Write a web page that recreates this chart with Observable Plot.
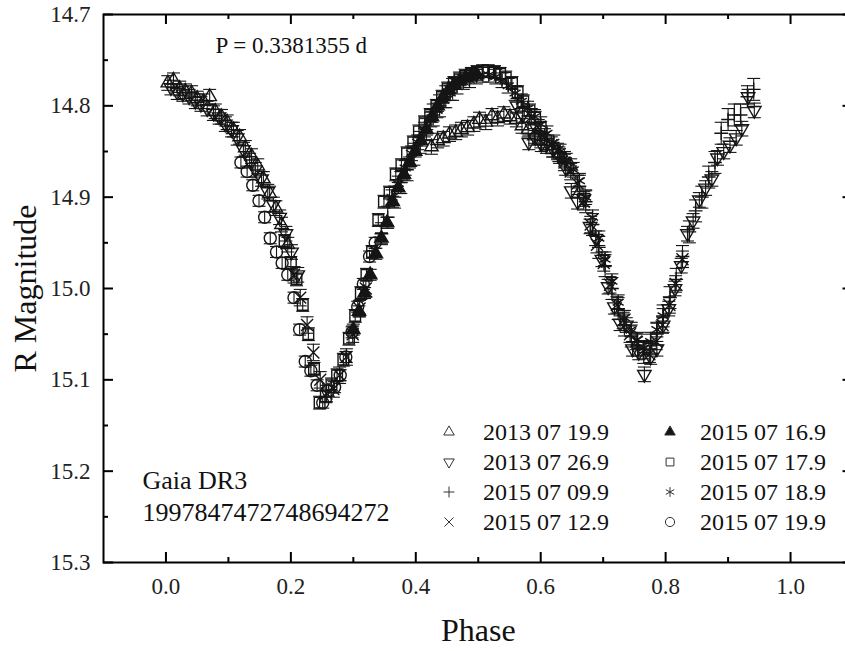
<!DOCTYPE html>
<html><head><meta charset="utf-8">
<script src="https://cdn.jsdelivr.net/npm/d3@7"></script>
<script src="https://cdn.jsdelivr.net/npm/@observablehq/plot@0.6"></script>
<style>
html,body{margin:0;padding:0;background:#fff;overflow:hidden;}
#wrap{position:relative;width:845px;height:651px;overflow:hidden;font-family:"Liberation Serif","Times New Roman",serif;}
.li{position:absolute;font-size:24px;line-height:24px;white-space:nowrap;color:#111;}
.ls{position:absolute;}
</style></head><body><div id="wrap"></div>
<script>
// ---------- data ----------
const seriesLabels = ["2013 07 19.9","2013 07 26.9","2015 07 09.9","2015 07 12.9","2015 07 16.9","2015 07 17.9","2015 07 18.9","2015 07 19.9"];
const seriesErr = [0.008, 0.008, 0.012, 0.009, 0.006, 0.007, 0.008, 0.006];

const phase1 = [0.003,0.012,0.022,0.031,0.041,0.05,0.06,0.07,0.079,0.089,0.098,0.108,0.118,0.127,0.137,0.147,0.156,0.166,0.176,0.185,0.195,
  0.425,0.435,0.444,0.454,0.464,0.473,0.483,0.493,0.502,0.512,0.522,0.531,0.541,0.551,0.561,0.57,0.58,0.59,0.6,0.609,0.619,0.629,0.638,0.648];
const mag1 = [14.775,14.772,14.781,14.784,14.786,14.792,14.795,14.790,14.806,14.812,14.818,14.826,14.834,14.846,14.855,14.866,14.880,14.896,14.912,14.930,14.952,
  14.845,14.838,14.836,14.831,14.829,14.826,14.824,14.820,14.815,14.818,14.811,14.814,14.809,14.812,14.815,14.822,14.826,14.833,14.838,14.844,14.848,14.853,14.858,14.866];

const phase2 = [0.008,0.018,0.027,0.037,0.047,0.056,0.066,0.076,0.085,0.095,0.105,0.114,0.124,0.134,0.143,0.153,0.163,0.172,0.182,0.192,0.201,0.211,
  0.562,0.571,0.581,0.591,0.601,0.61,0.62,0.63,0.64,0.649,0.659,0.669,0.679,0.688,0.698,0.708,0.718,0.727,0.737,0.747,0.757,0.766,0.776,0.786,0.796,0.805,0.815,0.825,0.835,0.844,0.854,0.864,0.874,0.883,0.893,0.903,0.913,0.922,0.932,0.942];
const mag2 = [14.780,14.785,14.787,14.790,14.795,14.798,14.803,14.808,14.812,14.820,14.826,14.835,14.848,14.860,14.870,14.880,14.894,14.908,14.922,14.940,14.960,14.985,
  14.800,14.810,14.840,14.835,14.842,14.840,14.848,14.855,14.868,14.893,14.905,14.902,14.932,14.945,14.968,14.998,15.020,15.038,15.040,15.066,15.070,15.094,15.075,15.066,15.040,15.022,15.000,14.975,14.940,14.926,14.903,14.890,14.880,14.857,14.850,14.843,14.835,14.825,14.790,14.805];

const phase3 = [0.345,0.355,0.366,0.376,0.386,0.397,0.407,0.417,0.428,0.438,0.448,0.459,
  0.662,0.672,0.683,0.693,0.703,0.714,0.724,0.734,0.745,0.755,0.765,0.776,0.786,0.796,0.807,0.817,0.827,0.838,0.848,0.858,0.869,0.879,0.889,0.9,0.91,0.92,0.931,0.941];
const mag3 = [14.940,14.922,14.900,14.884,14.870,14.853,14.840,14.826,14.810,14.800,14.790,14.782,
  14.888,14.905,14.930,14.955,14.975,15.000,15.022,15.040,15.052,15.062,15.070,15.060,15.050,15.030,15.010,14.990,14.965,14.938,14.915,14.900,14.878,14.862,14.830,14.815,14.810,14.810,14.790,14.782];

const phase4 = [0.205,0.215,0.226,0.236,0.247,0.257,0.268,0.278,0.289,0.299,0.31,0.32,
  0.585,0.596,0.606,0.617,0.627,0.638,0.648,0.659,0.669,0.68,0.69,0.701,0.711,0.722,0.732,0.743,0.753,0.764,0.774,0.785,0.795,0.806,0.816,0.827];
const mag4 = [14.985,15.010,15.040,15.070,15.100,15.115,15.110,15.095,15.075,15.050,15.022,15.000,
  14.812,14.824,14.834,14.843,14.850,14.862,14.872,14.885,14.905,14.930,14.952,14.972,14.996,15.018,15.035,15.050,15.058,15.068,15.072,15.058,15.040,15.018,14.995,14.968];

const phase5 = [0.3,0.309,0.318,0.327,0.336,0.345,0.354,0.363,0.372,0.381,0.39,0.399,0.408,0.417,0.426,0.435,0.444,0.453,0.462,0.471,0.48,0.489,0.498];
const mag5 = [15.045,15.025,15.005,14.985,14.962,14.945,14.928,14.905,14.890,14.875,14.862,14.850,14.838,14.826,14.812,14.800,14.790,14.782,14.776,14.772,14.769,14.767,14.766];

const phase6 = [0.19,0.2,0.209,0.219,0.228,0.237,0.246,0.256,0.265,0.274,0.284,0.293,0.303,0.312,0.321,0.33,0.34,0.349,0.358,0.368,0.377,0.386,0.396,0.405,0.414,0.423,0.433,0.442,0.451,0.461,0.47,0.479,0.489,0.498,0.507,0.516,0.526,0.535,0.544,0.554,0.563,0.572,0.582,0.591,0.6];
const mag6 = [14.948,14.972,14.990,15.018,15.050,15.088,15.125,15.118,15.105,15.095,15.078,15.055,15.030,15.005,14.985,14.960,14.925,14.905,14.895,14.875,14.865,14.852,14.840,14.828,14.818,14.810,14.800,14.790,14.781,14.775,14.770,14.767,14.765,14.763,14.762,14.762,14.763,14.765,14.769,14.775,14.785,14.795,14.805,14.813,14.824];

const phase7 = [0.362,0.372,0.383,0.393,0.403,0.414,0.424,0.434,0.445,0.455,0.466,0.476,0.486,0.497,0.507,0.517,0.528,0.538,0.548,0.559,0.569,0.579,0.59,0.6,0.61,0.621,0.631,0.641,0.652,0.662,0.672,0.683,0.693,0.703,0.714,0.724,0.734,0.745,0.755,0.765,0.776,0.786,0.796];
const mag7 = [14.900,14.885,14.868,14.852,14.840,14.826,14.815,14.805,14.794,14.786,14.779,14.774,14.772,14.768,14.766,14.766,14.768,14.772,14.778,14.786,14.795,14.803,14.812,14.820,14.830,14.840,14.850,14.860,14.870,14.882,14.900,14.922,14.945,14.968,14.992,15.015,15.032,15.045,15.056,15.065,15.058,15.045,15.030];

const phase8 = [0.12,0.13,0.139,0.149,0.158,0.167,0.177,0.186,0.195,0.205,0.214,0.223,0.232,0.242,0.251,0.26,0.27,0.279,0.288,0.298,0.307,0.316,0.326,0.335];
const mag8 = [14.862,14.872,14.887,14.904,14.922,14.945,14.960,14.972,14.985,15.010,15.045,15.080,15.090,15.106,15.125,15.112,15.108,15.095,15.075,15.048,15.020,14.995,14.965,14.950];

const xMajorTicks = [0.0, 0.2, 0.4, 0.6, 0.8, 1.0];
const xMinorTicks = [0.1, 0.3, 0.5, 0.7, 0.9];
const yMajorTicks = [14.7, 14.8, 14.9, 15.0, 15.1, 15.2, 15.3];
const yMinorTicks = [14.75, 14.85, 14.95, 15.05, 15.15, 15.25];
const periodText = "P = 0.3381355 d";
const starText = "Gaia DR3\n1997847472748694272";

// ---------- build ----------
const phases = [phase1, phase2, phase3, phase4, phase5, phase6, phase7, phase8];
const mags = [mag1, mag2, mag3, mag4, mag5, mag6, mag7, mag8];
const seriesRows = phases.map((ps, i) => ps.map((p, j) => ({series: seriesLabels[i], phase: p, mag: mags[i][j], err: seriesErr[i]})));
const allRows = seriesRows.flat();

const ink = "#151515";
const styles = [
  {symbol: "triangle", r: 5, fill: "none", rotate: 0},
  {symbol: "triangle", r: 5, fill: "none", rotate: 180},
  {symbol: "plus", r: 4.5, fill: "none", rotate: 0},
  {symbol: "times", r: 5.5, fill: "none", rotate: 0},
  {symbol: "triangle", r: 5, fill: ink, rotate: 0},
  {symbol: "square", r: 6, fill: "none", rotate: 0},
  {symbol: "asterisk", r: 6, fill: "none", rotate: 0},
  {symbol: "circle", r: 6, fill: "none", rotate: 0}
];
const capSymbol = {draw(ctx, size) { const w = Math.sqrt(size / Math.PI); ctx.moveTo(-w, 0); ctx.lineTo(w, 0); }};

const W = 860, H = 651, mL = 103, mR = 7.5, mT = 14, mB = 89;
const plotW = W - mL - mR, plotH = H - mT - mB;
const major = 10, minor = 5;

const marks = [
  Plot.ruleX(allRows, {x: "phase", y1: d => d.mag - d.err, y2: d => d.mag + d.err, stroke: ink, strokeWidth: 1.1}),
  Plot.dot(allRows, {x: "phase", y: d => d.mag - d.err, symbol: capSymbol, r: 6.5, stroke: ink, strokeWidth: 1.1}),
  Plot.dot(allRows, {x: "phase", y: d => d.mag + d.err, symbol: capSymbol, r: 6.5, stroke: ink, strokeWidth: 1.1}),
  ...seriesRows.map((rows, i) => Plot.dot(rows, {x: "phase", y: "mag", symbol: styles[i].symbol, r: styles[i].r, fill: styles[i].fill, rotate: styles[i].rotate, stroke: ink, strokeWidth: 1.4})),
  // ticks (inward)
  Plot.ruleX(xMajorTicks, {x: d => d, insetTop: plotH - major, stroke: "#000", strokeWidth: 2}),
  Plot.ruleX(xMinorTicks, {x: d => d, insetTop: plotH - minor, stroke: "#000", strokeWidth: 2}),
  Plot.ruleX(xMajorTicks, {x: d => d, insetBottom: plotH - major, stroke: "#000", strokeWidth: 2}),
  Plot.ruleX(xMinorTicks, {x: d => d, insetBottom: plotH - minor, stroke: "#000", strokeWidth: 2}),
  Plot.ruleY(yMajorTicks, {y: d => d, insetRight: plotW - major, stroke: "#000", strokeWidth: 2}),
  Plot.ruleY(yMinorTicks, {y: d => d, insetRight: plotW - minor, stroke: "#000", strokeWidth: 2}),
  Plot.ruleY(yMajorTicks, {y: d => d, insetLeft: plotW - major, stroke: "#000", strokeWidth: 2}),
  Plot.ruleY(yMinorTicks, {y: d => d, insetLeft: plotW - minor, stroke: "#000", strokeWidth: 2}),
  Plot.axisX(xMajorTicks, {tickSize: 0, tickPadding: 15, tickFormat: d3.format(".1f"), fontSize: 23, fill: "#222", label: null}),
  Plot.axisY(yMajorTicks, {tickSize: 0, tickPadding: 13, tickFormat: d3.format(".1f"), fontSize: 23, fill: "#222", label: null}),
  Plot.frame({stroke: "#000", strokeWidth: 2}),
  Plot.text(["R Magnitude"], {text: d => d, frameAnchor: "left", dx: -78, rotate: -90, textAnchor: "middle", lineAnchor: "middle", fontSize: 32, fill: "#111"}),
  Plot.text(["Phase"], {text: d => d, frameAnchor: "bottom", dy: 68, textAnchor: "middle", lineAnchor: "middle", fontSize: 32, fill: "#111"}),
  Plot.text([periodText], {text: d => d, frameAnchor: "top-left", dx: 112, dy: 31, textAnchor: "start", lineAnchor: "middle", fontSize: 23, fill: "#111"}),
  Plot.text([starText], {text: d => d, frameAnchor: "bottom-left", dx: 39, dy: -68, textAnchor: "start", lineAnchor: "middle", lineHeight: 1.23, fontSize: 26, fill: "#111"})
];

const chart = Plot.plot({
  width: W, height: H,
  marginLeft: mL, marginRight: mR, marginTop: mT, marginBottom: mB,
  x: {domain: [-0.1, 1.1], axis: null},
  y: {domain: [14.7, 15.3], reverse: true, axis: null},
  style: {fontFamily: "Liberation Serif, Times New Roman, serif", fontSize: "20px", maxWidth: "none", background: "white", overflow: "visible"},
  marks
});
const wrap = document.getElementById("wrap");
wrap.appendChild(chart);

// ---------- legend (inside plot area) ----------
const legendCols = [{sx: 449, tx: 483}, {sx: 670, tx: 700}];
const legendRowsY = [432, 462, 492, 522];
const legendScale = {"triangle": 3.9, "plus": 3.6, "times": 4.2, "square": 4.4, "asterisk": 4.6, "circle": 4.6};
seriesLabels.forEach((lab, i) => {
  const col = legendCols[Math.floor(i / 4)], cy = legendRowsY[i % 4];
  const st = styles[i];
  const typ = {triangle: d3.symbolTriangle, plus: d3.symbolPlus, times: d3.symbolTimes, square: d3.symbolSquare, asterisk: d3.symbolAsterisk, circle: d3.symbolCircle}[st.symbol];
  const rr = legendScale[st.symbol];
  const path = d3.symbol(typ, rr * rr * Math.PI)();
  const s = document.createElementNS("http://www.w3.org/2000/svg", "svg");
  s.setAttribute("width", 24); s.setAttribute("height", 24);
  s.setAttribute("class", "ls");
  s.style.left = (col.sx - 12) + "px"; s.style.top = (cy - 12) + "px";
  s.innerHTML = `<path d="${path}" transform="translate(12,12) rotate(${st.rotate})" fill="${st.fill}" stroke="#333" stroke-width="1"/>`;
  wrap.appendChild(s);
  const t = document.createElement("div");
  t.className = "li"; t.textContent = lab;
  t.style.left = col.tx + "px"; t.style.top = (cy - 12) + "px";
  wrap.appendChild(t);
});
</script></body></html>
